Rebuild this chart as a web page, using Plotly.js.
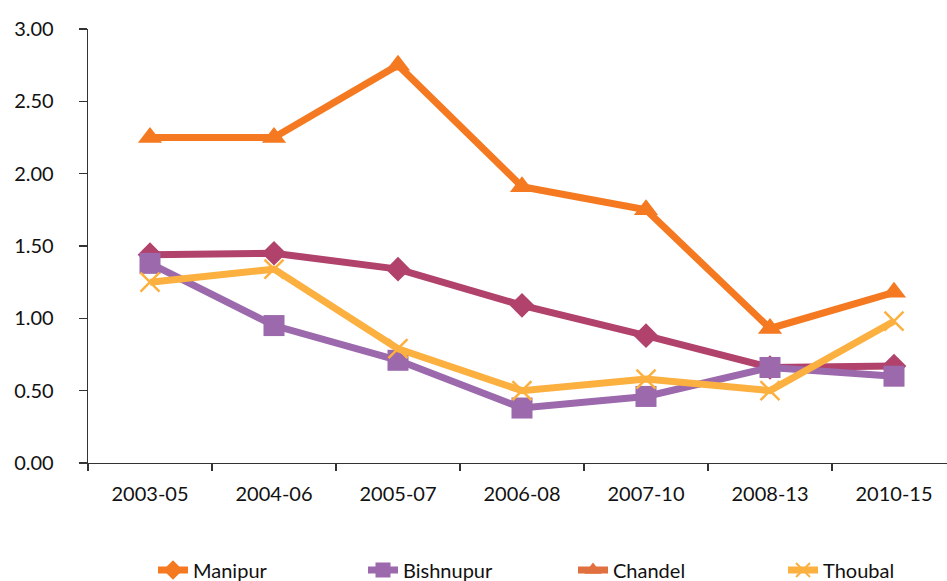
<!DOCTYPE html>
<html>
<head>
<meta charset="utf-8">
<script src="https://cdn.plot.ly/plotly-3.0.1.min.js"></script>
<style>
html,body{margin:0;padding:0;overflow:hidden;background:#fff;}
#chart{width:1100px;height:620px;}
</style>
</head>
<body>
<div id="chart"></div>
<script>
const periods = ["2003-05","2004-06","2005-07","2006-08","2007-10","2008-13","2010-15"];
const manipur   = [1.44, 1.45, 1.34, 1.09, 0.88, 0.66, 0.67];
const bishnupur = [1.38, 0.95, 0.71, 0.38, 0.46, 0.66, 0.60];
const chandel   = [2.25, 2.25, 2.75, 1.91, 1.75, 0.93, 1.18];
const thoubal   = [1.25, 1.34, 0.79, 0.50, 0.58, 0.50, 0.98];
const seriesNames = ["Manipur","Bishnupur","Chandel","Thoubal"];
const yTicks = [0, 0.5, 1, 1.5, 2, 2.5, 3];

const plotColors   = ["#b1426b","#9b69ac","#f47920","#fbb040"];
const legendColors = ["#f47920","#9b69ac","#e07040","#fbb040"];
const symbols = ["diamond","square","triangle-up","x-thin"];
const seriesData = [manipur, bishnupur, chandel, thoubal];

const traces = [];
seriesData.forEach((vals, i) => {
  const isX = symbols[i] === "x-thin";
  traces.push({
    type: "scatter", mode: "lines+markers",
    x: periods, y: vals, name: seriesNames[i], showlegend: false,
    line: {color: plotColors[i], width: 7},
    marker: isX
      ? {symbol: "x-thin", size: 19, line: {color: plotColors[i], width: 2.5}, color: plotColors[i]}
      : {symbol: symbols[i], size: i === 0 ? 19 : 21, color: plotColors[i]},
    hoverinfo: "x+y+name"
  });
});
seriesData.forEach((vals, i) => {
  const isX = symbols[i] === "x-thin";
  traces.push({
    type: "scatter", mode: "lines+markers",
    x: [null], y: [null], name: seriesNames[i], showlegend: true,
    line: {color: legendColors[i], width: 7},
    marker: isX
      ? {symbol: "x-thin", size: 14, line: {color: legendColors[i], width: 2}, color: legendColors[i]}
      : {symbol: symbols[i], size: 15, color: legendColors[i]}
  });
});

const layout = {
  width: 1100, height: 620,
  margin: {l: 88, r: 144, t: 29, b: 157},
  paper_bgcolor: "#ffffff", plot_bgcolor: "#ffffff",
  font: {family: "Lato, 'Open Sans', sans-serif", size: 20, color: "#111111"},
  showlegend: true,
  legend: {
    orientation: "h", x: (153 - 88) / 868, xanchor: "left",
    y: (463 - 570) / 434, yanchor: "middle",
    entrywidth: 165, entrywidthmode: "pixels",
    font: {size: 20, color: "#111111"}, bgcolor: "rgba(0,0,0,0)",
    itemclick: false
  },
  xaxis: {
    type: "category", categoryarray: periods,
    range: [-0.5, 6.5],
    showline: true, linecolor: "#333333", linewidth: 1.3,
    ticks: "outside", tickson: "boundaries", ticklen: 7, tickcolor: "#333333", tickwidth: 1.3,
    showgrid: false, zeroline: false,
    ticklabelstandoff: 13,
    tickfont: {size: 20, color: "#111111"}
  },
  yaxis: {
    range: [0, 3], tickvals: yTicks, tickformat: ".2f",
    showline: true, linecolor: "#333333", linewidth: 1.3,
    ticks: "outside", ticklen: 8, tickcolor: "#333333", tickwidth: 1.3,
    showgrid: false, zeroline: false,
    ticklabelstandoff: 21,
    tickfont: {size: 20, color: "#111111"}
  }
};

Plotly.newPlot("chart", traces, layout, {displayModeBar: false, staticPlot: true});
</script>
</body>
</html>
